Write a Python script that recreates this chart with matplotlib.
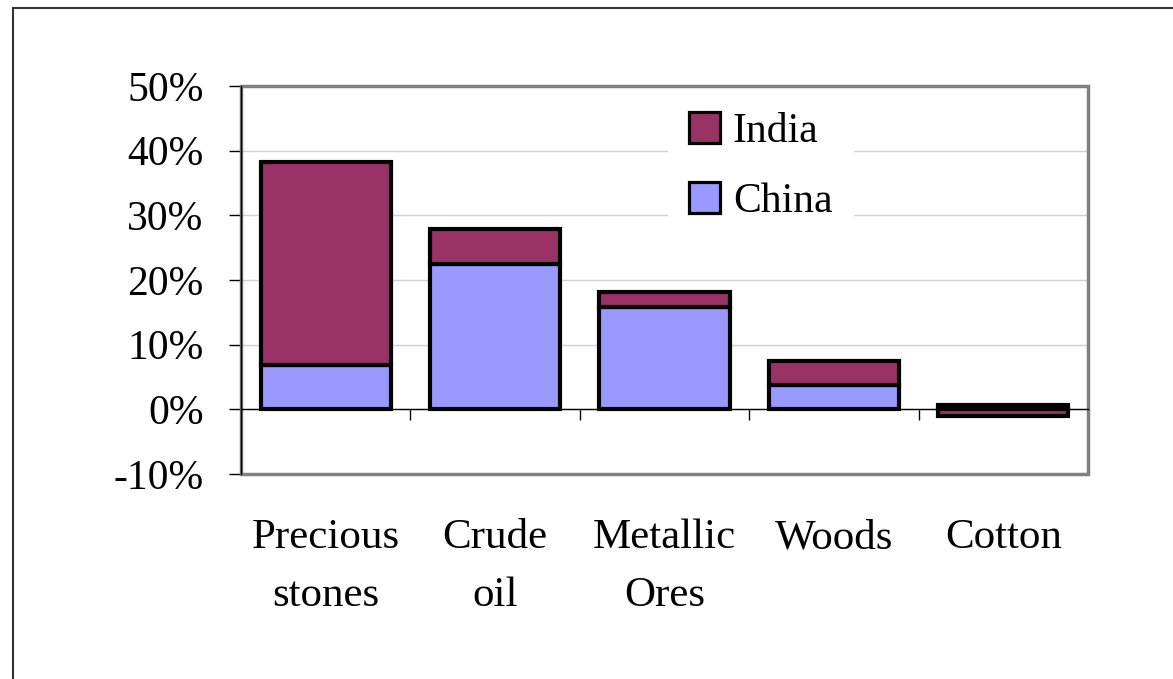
import matplotlib.pyplot as plt
import matplotlib.patches as mpatches
import matplotlib.transforms as mtransforms
import numpy as np

plt.rcParams['font.family'] = ['Liberation Serif', 'DejaVu Serif']

categories = ["Precious\nstones", "Crude\noil", "Metallic\nOres", "Woods", "Cotton"]
china = [6.8, 22.5, 15.9, 3.8, 0.6]
india = [31.4, 5.4, 2.3, 3.7, -1.1]
y_ticks = [-10, 0, 10, 20, 30, 40, 50]

CHINA_COLOR = "#9999FF"
INDIA_COLOR = "#993366"

fig = plt.figure(figsize=(11.73, 6.79), dpi=100)
ax = fig.add_axes([0.2055, 0.3019, 0.722, 0.5714])

# outer frame of the chart area
fig.patches.append(mpatches.Rectangle((13 / 1173, -0.05), 1.2, 1 - 8 / 679 + 0.05,
                                      transform=fig.transFigure, fill=False,
                                      edgecolor="#333333", lw=1.5))

x = np.arange(len(categories))
india_bottom = [c if i >= 0 else 0 for c, i in zip(china, india)]

ax.bar(x, china, width=0.77, color=CHINA_COLOR, edgecolor="black", linewidth=3, zorder=3)
ax.bar(x, india, width=0.77, bottom=india_bottom, color=INDIA_COLOR,
       edgecolor="black", linewidth=3, zorder=3)

ax.set_xlim(-0.5, len(categories) - 0.5)
ax.set_ylim(-10, 50)
ax.set_yticks(y_ticks)
ax.set_yticklabels(["%d%%" % v for v in y_ticks], fontsize=30)
ax.tick_params(axis="y", direction="out", length=9, width=1, pad=18, color="black")
ax.grid(axis="y", color="#d0d0d0", lw=1, zorder=0)

for s in ["top", "right"]:
    ax.spines[s].set_visible(False)
ax.spines["left"].set_color("black")
ax.spines["left"].set_linewidth(1)
ax.spines["bottom"].set_position(("data", 0))
ax.spines["bottom"].set_color("black")
ax.spines["bottom"].set_linewidth(1)
ax.spines["bottom"].set_zorder(4)

# category boundary ticks on the zero line
ax.set_xticks(np.arange(len(categories) + 1) - 0.5)
ax.set_xticklabels([])
ax.tick_params(axis="x", direction="out", length=8, width=1, color="black")

# gray plot-area border
ax.add_patch(mpatches.Rectangle((0, 0), 1, 1, transform=ax.transAxes, fill=False,
                                edgecolor="#808080", lw=2.5, zorder=2, clip_on=False))

trans = mtransforms.blended_transform_factory(ax.transData, ax.transAxes)
for xi, name in zip(x, categories):
    ax.text(xi, -0.115, name, transform=trans, ha="center", va="top",
            fontsize=31, linespacing=1.65)

handles = [mpatches.Patch(facecolor=INDIA_COLOR, edgecolor="black", lw=2.3, label="India"),
           mpatches.Patch(facecolor=CHINA_COLOR, edgecolor="black", lw=2.3, label="China")]
leg = ax.legend(handles=handles, loc="upper left", bbox_to_anchor=(0.48, 1.04),
                frameon=True, fontsize=30, handlelength=0.75, handleheight=0.75,
                handletextpad=0.3, labelspacing=0.75, borderpad=0.5, fancybox=False)
leg.get_frame().set_edgecolor("white")
leg.get_frame().set_facecolor("white")
leg.get_frame().set_alpha(1)
leg.set_zorder(10)

fig.savefig("out.png", dpi=100)
